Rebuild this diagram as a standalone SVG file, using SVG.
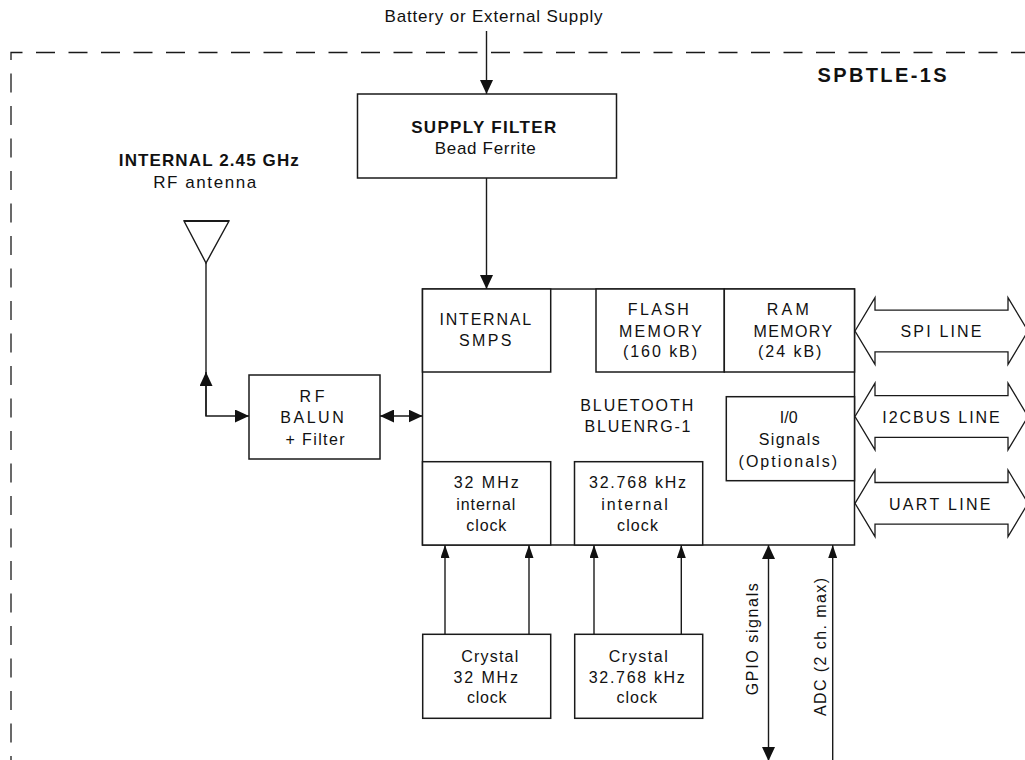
<svg xmlns="http://www.w3.org/2000/svg" width="1025" height="760" viewBox="0 0 1025 760">
<defs>
<style>
.bx{fill:#fff;stroke:#1a1a1a;stroke-width:1.5}
.ln{fill:none;stroke:#1a1a1a;stroke-width:1.4}
.t{font-family:"Liberation Sans",Arial,sans-serif;font-size:16px;fill:#111;text-anchor:middle}
.tl{font-size:17px}
.b{font-weight:bold;font-size:17px}
</style>
<marker id="ah" viewBox="0 0 14 13" refX="14" refY="6.5" markerWidth="14" markerHeight="13" orient="auto-start-reverse" markerUnits="userSpaceOnUse"><path d="M0,0 L14,6.5 L0,13 z" fill="#111"/></marker>
<marker id="ahs" viewBox="0 0 13 9" refX="13" refY="4.5" markerWidth="13" markerHeight="9" orient="auto-start-reverse" markerUnits="userSpaceOnUse"><path d="M0,0 L13,4.5 L0,9 z" fill="#111"/></marker>
<path id="bus" d="M855,0 L875,-33.3 L875,-20.8 L1008,-20.8 L1008,-33.3 L1028,0 L1008,33.3 L1008,20.8 L875,20.8 L875,33.3 Z"/>
</defs>
<rect width="1025" height="760" fill="#fff"/>

<g id="module-border">
<path d="M11,775 V52.5 H1040" fill="none" stroke="#1a1a1a" stroke-width="1.3" stroke-dasharray="19 13.5"/>
<text class="t b" x="882" y="81.7" style="font-size:20px" textLength="129" lengthAdjust="spacing">SPBTLE-1S</text>
</g>

<g id="supply-label">
<text class="t tl" x="493.5" y="21.7" textLength="218" lengthAdjust="spacing">Battery or External Supply</text>
</g>

<g id="connectors">
<line class="ln" x1="486.5" y1="31" x2="486.5" y2="94" marker-end="url(#ah)"/>
<line class="ln" x1="486.5" y1="178" x2="486.5" y2="289" marker-end="url(#ah)"/>
<path class="ln" d="M206,263 V416 H249" marker-end="url(#ah)"/>
<line class="ln" x1="206" y1="416" x2="206" y2="372" marker-end="url(#ah)"/>
<line class="ln" x1="380" y1="416" x2="422.5" y2="416" marker-start="url(#ah)" marker-end="url(#ah)"/>
<line class="ln" x1="445" y1="634.3" x2="445" y2="545" marker-end="url(#ahs)"/>
<line class="ln" x1="529" y1="634.3" x2="529" y2="545" marker-end="url(#ahs)"/>
<line class="ln" x1="594" y1="634.3" x2="594" y2="545" marker-end="url(#ahs)"/>
<line class="ln" x1="681.3" y1="634.3" x2="681.3" y2="545" marker-end="url(#ahs)"/>
<line class="ln" x1="768.5" y1="761" x2="768.5" y2="545" marker-start="url(#ah)" marker-end="url(#ah)"/>
<line class="ln" x1="832.7" y1="775" x2="832.7" y2="545" marker-end="url(#ahs)"/>
</g>

<g id="supply-filter">
<rect class="bx" x="357.5" y="94" width="259" height="84"/>
<text class="t b" x="483.7" y="133.3" textLength="145" lengthAdjust="spacing">SUPPLY FILTER</text>
<text class="t tl" x="485.3" y="154" textLength="101" lengthAdjust="spacing">Bead Ferrite</text>
</g>

<g id="antenna">
<text class="t b" x="208.8" y="165.7" textLength="180" lengthAdjust="spacing">INTERNAL 2.45 GHz</text>
<text class="t tl" x="204.7" y="188.3" textLength="103" lengthAdjust="spacing">RF  antenna</text>
<path d="M184,221 H229 L206,263 Z" fill="#fff" stroke="#1a1a1a" stroke-width="1.4"/>
<line x1="184" y1="221" x2="229" y2="221" stroke="#1a1a1a" stroke-width="2.2"/>
</g>

<g id="rf-balun">
<rect class="bx" x="249" y="375" width="131" height="84"/>
<text class="t" x="312" y="402.3" textLength="25" lengthAdjust="spacing">RF</text>
<text class="t" x="312" y="423.3" textLength="63.5" lengthAdjust="spacing">BALUN</text>
<text class="t" x="315" y="445" textLength="59" lengthAdjust="spacing">+ Filter</text>
</g>

<g id="bluenrg">
<rect class="bx" x="422.5" y="289" width="432" height="256"/>
<text class="t" x="636.7" y="410.7" textLength="113" lengthAdjust="spacing">BLUETOOTH</text>
<text class="t" x="637.5" y="431.7" textLength="106" lengthAdjust="spacing">BLUENRG-1</text>
</g>

<g id="smps">
<rect class="bx" x="422.5" y="289" width="128.2" height="83"/>
<text class="t" x="485.3" y="325" textLength="91.5" lengthAdjust="spacing">INTERNAL</text>
<text class="t" x="485.2" y="345.7" textLength="52.5" lengthAdjust="spacing">SMPS</text>
</g>

<g id="flash">
<rect class="bx" x="596" y="289" width="128.3" height="83"/>
<text class="t" x="658.3" y="315" textLength="61" lengthAdjust="spacing">FLASH</text>
<text class="t" x="660.5" y="337.3" textLength="83" lengthAdjust="spacing">MEMORY</text>
<text class="t" x="660" y="357.3" textLength="74" lengthAdjust="spacing">(160 kB)</text>
</g>

<g id="ram">
<rect class="bx" x="724.3" y="289" width="130.2" height="83"/>
<text class="t" x="787.8" y="315" textLength="42" lengthAdjust="spacing">RAM</text>
<text class="t" x="792.8" y="337.3" textLength="78.5" lengthAdjust="spacing">MEMORY</text>
<text class="t" x="789.7" y="357.3" textLength="63.5" lengthAdjust="spacing">(24 kB)</text>
</g>

<g id="io-signals">
<rect class="bx" x="726.3" y="396.7" width="128.2" height="84"/>
<text class="t" x="788.7" y="423.3">I/0</text>
<text class="t" x="789.2" y="445" textLength="61" lengthAdjust="spacing">Signals</text>
<text class="t" x="787.8" y="466.7" textLength="98.5" lengthAdjust="spacing">(Optionals)</text>
</g>

<g id="clock-32mhz">
<rect class="bx" x="422.5" y="461.7" width="128.2" height="83.3"/>
<text class="t" x="486.2" y="487.5" textLength="65" lengthAdjust="spacing">32 MHz</text>
<text class="t" x="485.8" y="509.5" textLength="59" lengthAdjust="spacing">internal</text>
<text class="t" x="486.3" y="530.5" textLength="40" lengthAdjust="spacing">clock</text>
</g>

<g id="clock-32khz">
<rect class="bx" x="574.5" y="461.7" width="128.2" height="83.3"/>
<text class="t" x="637.5" y="487.5" textLength="97" lengthAdjust="spacing">32.768 kHz</text>
<text class="t" x="634.5" y="509.5" textLength="66.5" lengthAdjust="spacing">internal</text>
<text class="t" x="637.5" y="530.5" textLength="41" lengthAdjust="spacing">clock</text>
</g>

<g id="crystal-32mhz">
<rect class="bx" x="422.7" y="634.3" width="128" height="84"/>
<text class="t" x="489.7" y="661.7" textLength="57" lengthAdjust="spacing">Crystal</text>
<text class="t" x="485.8" y="682.7" textLength="64.5" lengthAdjust="spacing">32 MHz</text>
<text class="t" x="486.7" y="703.3" textLength="39.5" lengthAdjust="spacing">clock</text>
</g>

<g id="crystal-32khz">
<rect class="bx" x="574.7" y="634.3" width="128" height="84"/>
<text class="t" x="638.2" y="661.7" textLength="59" lengthAdjust="spacing">Crystal</text>
<text class="t" x="636.8" y="682.7" textLength="96" lengthAdjust="spacing">32.768 kHz</text>
<text class="t" x="636.7" y="703.3" textLength="40.5" lengthAdjust="spacing">clock</text>
</g>

<g id="spi-line">
<use href="#bus" y="331" fill="#fff" stroke="#1a1a1a" stroke-width="1.3"/>
<text class="t" x="941" y="336.7" textLength="81" lengthAdjust="spacing">SPI  LINE</text>
</g>
<g id="i2c-line">
<use href="#bus" y="416.5" fill="#fff" stroke="#1a1a1a" stroke-width="1.3"/>
<text class="t" x="941" y="422.7" textLength="117.5" lengthAdjust="spacing">I2CBUS  LINE</text>
</g>
<g id="uart-line">
<use href="#bus" y="503.3" fill="#fff" stroke="#1a1a1a" stroke-width="1.3"/>
<text class="t" x="939.7" y="509.5" textLength="101.5" lengthAdjust="spacing">UART  LINE</text>
</g>

<g id="gpio-label">
<text class="t" transform="translate(757.7,639.2) rotate(-90)" textLength="112" lengthAdjust="spacing">GPIO signals</text>
</g>
<g id="adc-label">
<text class="t" transform="translate(825.7,647) rotate(-90)" textLength="138" lengthAdjust="spacing">ADC (2 ch. max)</text>
</g>
</svg>
